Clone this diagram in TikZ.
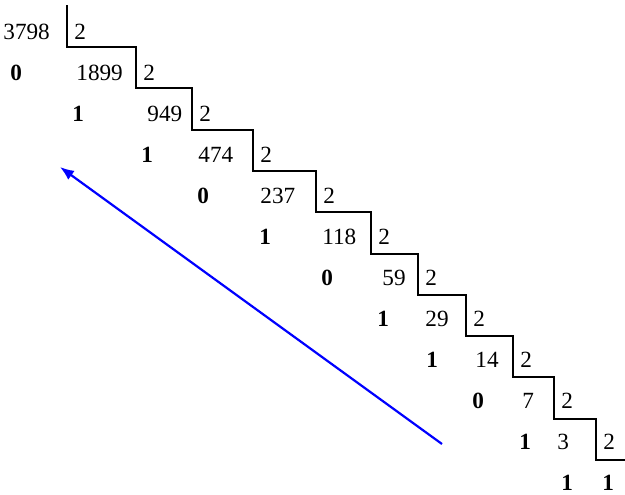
\documentclass[tikz,border=0pt]{standalone}
\usepackage{fontspec}
\setmainfont{Liberation Serif}
\usetikzlibrary{arrows.meta}

\begin{document}
\begin{tikzpicture}[
    x=0.5pt, y=-0.5pt,
    num/.style={anchor=west, inner sep=0pt, font=\fontsize{11.6}{13}\selectfont},
    rem/.style={num, font=\fontsize{11.6}{13}\selectfont\bfseries},
    stair/.style={line width=1pt, line join=miter},
    arrow/.style={-{Latex[length=7pt,width=5.5pt]}, blue, line width=1.1pt}
]
\useasboundingbox (0,0) rectangle (625,494);
% quotient, divisor and step corner of each row
\foreach \i/\n/\nx/\vx in {0/3798/3/67, 1/1899/76/136, 2/949/147/192, 3/474/198/253,
    4/237/260/316, 5/118/322/371, 6/59/382/418, 7/29/425/466, 8/14/475/513,
    9/7/522/554, 10/3/557/596} {
    \node[num] (q\i) at (\nx, 32+41*\i) {\n};
    \node[num] (d\i) at (\vx+7, 32+41*\i) {2};
    \coordinate (v\i) at (\vx, 47+41.3*\i);
}
% remainders
\foreach \i/\r/\rx in {1/0/10, 2/1/72, 3/1/141, 4/0/197, 5/1/259, 6/0/321,
    7/1/377, 8/1/426, 9/0/472, 10/1/519, 11/1/561}
    \node[rem] (r\i) at (\rx, 32+41*\i) {\r};
\node[rem] (q11) at (602, 483) {1};

\coordinate (top) at (67,5);
\coordinate (end) at (625,460);
\draw[stair] (top) -- (v0) -| (v1) -| (v2) -| (v3) -| (v4) -| (v5) -| (v6)
    -| (v7) -| (v8) -| (v9) -| (v10) -- (end);

\coordinate (from) at (442,444);
\coordinate (to) at (60,167);
\draw[arrow] (from) -- (to);
\end{tikzpicture}
\end{document}
